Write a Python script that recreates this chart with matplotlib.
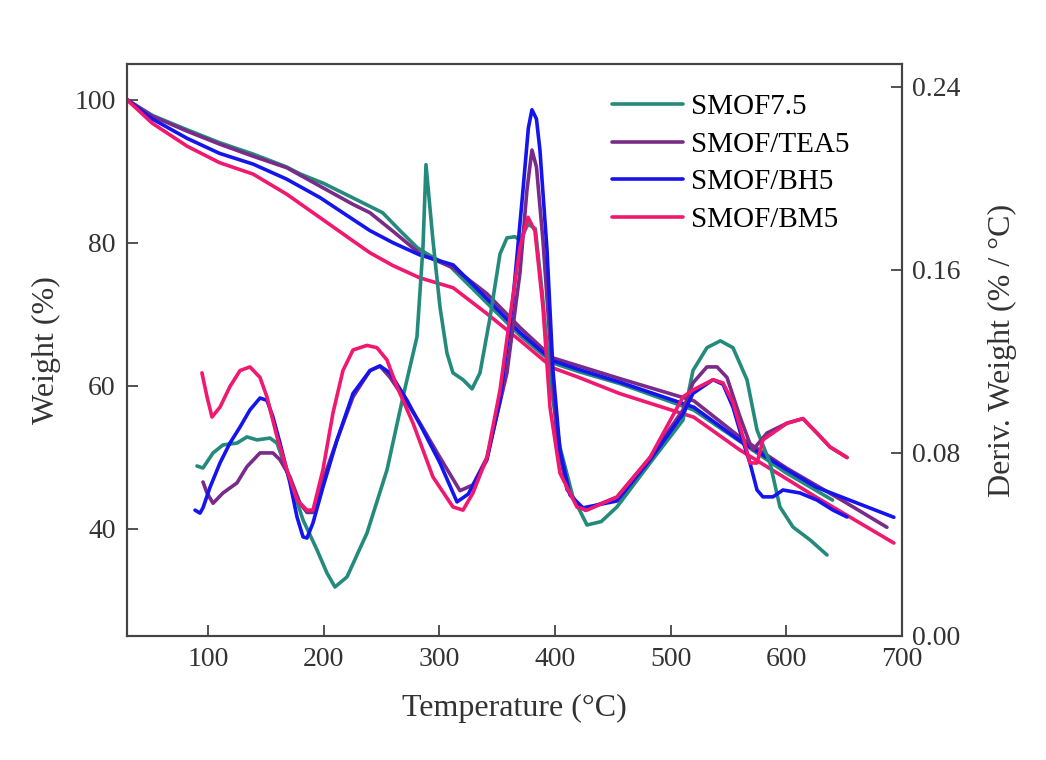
import matplotlib
matplotlib.use('Agg')
import matplotlib.pyplot as plt

plt.rcParams['font.family'] = ['Liberation Serif', 'DejaVu Serif']

labels = ['SMOF7.5', 'SMOF/TEA5', 'SMOF/BH5', 'SMOF/BM5']
colors = ['#238a7c', '#7a2a88', '#1414ee', '#f0186f']

# TG curves (left axis, weight %)
tg_teal_t = [30, 52, 82, 110, 139, 168, 180, 200, 225, 251, 266, 281, 292, 310, 341, 370, 398, 420, 456, 520, 560, 600, 640]
tg_teal_w = [100, 97.8, 95.8, 94.0, 92.4, 90.6, 89.6, 88.3, 86.3, 84.2, 81.7, 79.3, 78.2, 76.6, 71.6, 67.0, 63.2, 62.0, 60.3, 56.6, 52.2, 47.8, 44.0]

tg_purple_t = [30, 52, 82, 110, 139, 168, 197, 225, 240, 260, 283, 312, 341, 370, 398, 420, 456, 520, 560, 600, 650, 687]
tg_purple_w = [100, 97.7, 95.6, 93.8, 92.1, 90.5, 87.9, 85.4, 84.2, 81.6, 78.5, 76.5, 72.9, 68.1, 63.9, 62.8, 61.0, 57.9, 52.8, 48.5, 43.8, 40.2]

tg_blue_t = [30, 52, 82, 110, 139, 168, 197, 225, 240, 260, 283, 312, 341, 370, 398, 420, 456, 520, 560, 600, 626, 693]
tg_blue_w = [100, 97.3, 94.6, 92.5, 91.0, 88.9, 86.3, 83.3, 81.7, 80.0, 78.3, 76.9, 72.2, 67.4, 63.5, 62.3, 60.5, 57.0, 52.3, 48.3, 45.8, 41.6]

tg_pink_t = [30, 52, 82, 110, 139, 168, 197, 225, 240, 260, 283, 312, 341, 370, 398, 420, 456, 520, 560, 600, 626, 693]
tg_pink_w = [100, 96.7, 93.5, 91.2, 89.6, 86.8, 83.5, 80.3, 78.6, 76.8, 75.1, 73.7, 70.1, 66.3, 62.5, 61.2, 58.9, 55.6, 51.0, 47.0, 44.4, 38.0]

# DTG curves (right axis, %/°C)
dtg_teal_t = [90.5, 95.7, 104.4, 113.0, 125.1, 133.7, 142.4, 153.6, 159.7, 170.9, 182.2, 194.3, 202.9, 209.8,
              220.2, 237.5, 254.8, 268.6, 280.7, 285.9, 288.5, 294.5, 300.6, 306.6, 311.8, 320.5, 328.3, 335.2,
              343.8, 352.5, 358.5, 365.4, 369.8, 376.7, 383.0, 389.0, 395.7, 404.3, 415.5, 427.7, 440.0, 453.6,
              482.2, 510.7, 519.3, 531.4, 543.0, 553.9, 566.0, 574.7, 585.9, 594.5, 605.8, 620.5, 635.2]
dtg_teal_d = [0.0743, 0.0734, 0.080, 0.0835, 0.0843, 0.087, 0.0857, 0.0865, 0.0843, 0.0682, 0.0507, 0.0376, 0.0275, 0.0214,
              0.0258, 0.045, 0.0726, 0.1045, 0.1307, 0.170, 0.206, 0.173, 0.1438, 0.1237, 0.115, 0.112, 0.108, 0.115,
              0.139, 0.167, 0.174, 0.1745, 0.173, 0.180, 0.178, 0.150, 0.112, 0.0826, 0.0608, 0.0485, 0.050, 0.0564,
              0.0756, 0.0944, 0.116, 0.126, 0.129, 0.126, 0.112, 0.090, 0.0756, 0.0564, 0.0476, 0.042, 0.0354]

dtg_purple_t = [95.7, 99.2, 104.4, 113.0, 125.1, 133.7, 145.0, 156.2, 162.3, 170.9, 179.6, 185.6, 190.8, 199.4,
                211.6, 225.4, 240.1, 248.7, 257.4, 272.1, 283.3, 300.6, 317.9, 329.0, 341.2, 358.5, 369.8, 375.8,
                380.1, 384.0, 389.6, 395.7, 401.7, 410.4, 421.6, 426.0, 453.6, 482.2, 510.7, 519.3, 531.4, 540.1,
                548.7, 560.0, 568.6, 571.2, 583.3, 600.6, 614.4, 626.5, 637.8, 652.5]
dtg_purple_d = [0.0673, 0.0625, 0.058, 0.0625, 0.0669, 0.074, 0.080, 0.080, 0.077, 0.0695, 0.058, 0.054, 0.054, 0.068,
                0.0857, 0.1045, 0.116, 0.118, 0.113, 0.102, 0.093, 0.078, 0.0635, 0.066, 0.078, 0.115, 0.159, 0.195,
                0.2124, 0.205, 0.173, 0.129, 0.0857, 0.064, 0.0564, 0.055, 0.0607, 0.078, 0.0988, 0.1106, 0.1176, 0.1176,
                0.113, 0.0957, 0.084, 0.0813, 0.0887, 0.093, 0.095, 0.0887, 0.0826, 0.078]

dtg_blue_t = [88.8, 93.1, 95.7, 101.8, 110.4, 119.0, 127.7, 136.3, 145.0, 151.0, 156.2, 162.3, 170.9, 177.0,
              182.2, 185.6, 190.8, 199.4, 211.6, 225.4, 240.1, 248.7, 257.4, 272.1, 285.9, 300.6, 315.3, 325.0,
              341.2, 352.5, 363.7, 371.5, 377.0, 380.1, 384.0, 387.0, 393.1, 398.3, 404.3, 413.0, 424.2, 453.6,
              482.2, 510.7, 519.3, 536.6, 545.3, 553.9, 562.6, 568.6, 574.7, 579.8, 588.5, 597.1, 611.8, 626.5,
              640.4, 652.5]
dtg_blue_d = [0.055, 0.0537, 0.056, 0.065, 0.0756, 0.0843, 0.0913, 0.0988, 0.104, 0.103, 0.0957, 0.0843, 0.0669, 0.052,
              0.0433, 0.0428, 0.0494, 0.065, 0.0857, 0.106, 0.116, 0.118, 0.115, 0.103, 0.090, 0.0756, 0.0586, 0.062,
              0.077, 0.103, 0.147, 0.190, 0.222, 0.230, 0.226, 0.2124, 0.169, 0.116, 0.0813, 0.0616, 0.056, 0.059,
              0.077, 0.097, 0.106, 0.112, 0.110, 0.100, 0.085, 0.0756, 0.0638, 0.0608, 0.0608, 0.0638, 0.0625, 0.0594,
              0.055, 0.052]

dtg_pink_t = [94.8, 99.2, 103.5, 110.4, 119.0, 127.7, 136.3, 145.0, 151.0, 159.7, 168.3, 177.0, 185.6, 190.8,
              199.4, 208.1, 216.7, 225.4, 237.5, 246.1, 254.8, 263.4, 277.3, 294.5, 311.8, 320.5, 329.1, 341.2,
              352.5, 361.1, 369.8, 376.7, 382.7, 389.6, 395.7, 404.3, 419.0, 427.7, 453.6, 482.2, 510.7, 519.3,
              536.6, 545.3, 553.9, 562.6, 568.6, 574.7, 579.8, 600.6, 614.4, 626.5, 637.8, 652.5]
dtg_pink_d = [0.115, 0.1045, 0.0957, 0.100, 0.109, 0.116, 0.1176, 0.113, 0.1045, 0.087, 0.0726, 0.0594, 0.055, 0.055,
              0.0726, 0.0975, 0.116, 0.125, 0.127, 0.126, 0.1206, 0.109, 0.093, 0.0695, 0.0564, 0.055, 0.0625, 0.078,
              0.1075, 0.1394, 0.170, 0.183, 0.177, 0.1438, 0.100, 0.0712, 0.0564, 0.055, 0.0607, 0.078, 0.1045, 0.1075,
              0.112, 0.1106, 0.102, 0.087, 0.0756, 0.0756, 0.0857, 0.093, 0.095, 0.0887, 0.0826, 0.078]

tg = [(tg_teal_t, tg_teal_w), (tg_purple_t, tg_purple_w), (tg_blue_t, tg_blue_w), (tg_pink_t, tg_pink_w)]
dtg = [(dtg_teal_t, dtg_teal_d), (dtg_purple_t, dtg_purple_d), (dtg_blue_t, dtg_blue_d), (dtg_pink_t, dtg_pink_d)]

fig = plt.figure(figsize=(10.46, 7.6), dpi=100)
ax = fig.add_axes([0.1214, 0.1632, 0.7409, 0.7526])
ax2 = ax.twinx()

lw = 2.6
handles = []
for (t, w), (td, d), c, lab in zip(tg, dtg, colors, labels):
    line, = ax.plot(t, w, c=c, lw=lw, label=lab, solid_joinstyle='round', solid_capstyle='round')
    ax2.plot(td, d, c=c, lw=lw, solid_joinstyle='round', solid_capstyle='round')
    handles.append(line)

ax.set_xlim(30, 700)
ax.set_ylim(25, 105)
ax2.set_ylim(0, 0.25)
ax.set_xticks([100, 200, 300, 400, 500, 600, 700])
ax.set_yticks([40, 60, 80, 100])
ax2.set_yticks([0, 0.08, 0.16, 0.24])
ax2.set_yticklabels(['0.00', '0.08', '0.16', '0.24'])

for a in (ax, ax2):
    for s in a.spines.values():
        s.set_color('#444444')
        s.set_linewidth(1.5)
ax.tick_params(direction='in', length=8, width=1.3, labelsize=20, colors='#444444', labelcolor='#333333', pad=8)
ax2.tick_params(direction='in', length=8, width=1.3, labelsize=20, colors='#444444', labelcolor='#333333', pad=7)
ax.tick_params(axis='x', top=False)

ax.set_xlabel('Temperature (°C)', fontsize=23, color='#333333', labelpad=16)
ax.set_ylabel('Weight (%)', fontsize=23, color='#333333', labelpad=10)
ax2.set_ylabel('Deriv. Weight (% / °C)', fontsize=23, color='#333333', labelpad=20)

ax.legend(handles=handles, loc='upper left', bbox_to_anchor=(612 / 1046, 1 - 94 / 760),
          bbox_transform=fig.transFigure, frameon=False, fontsize=21, handlelength=2.45,
          handletextpad=0.25, labelspacing=0.38, borderpad=0, borderaxespad=0)

fig.savefig('out.png', dpi=100)
